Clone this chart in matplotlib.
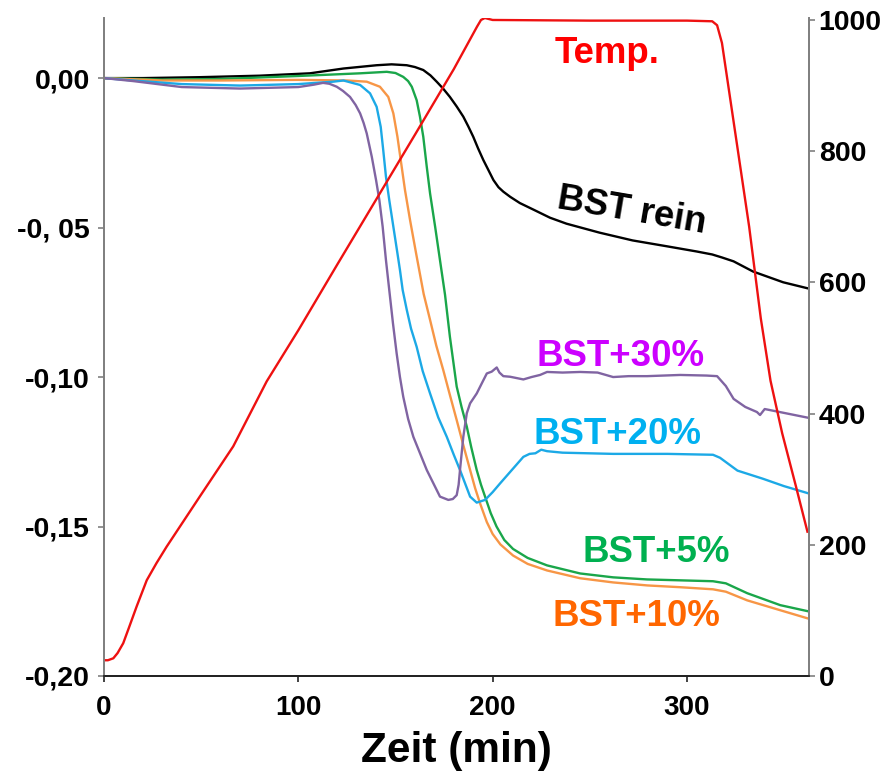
import matplotlib
matplotlib.use("Agg")
import matplotlib.pyplot as plt

plt.rcParams['font.family'] = ['Liberation Sans', 'DejaVu Sans']
plt.rcParams['font.weight'] = 'bold'

# Massenaenderung (links) ueber Zeit in min
t_rein = [0, 20, 49, 80, 106, 123.2, 140.3, 148, 155.8, 160, 164.3, 168, 171.2, 174.5, 178, 181.5, 184.9, 187.5,
          190, 192.5, 195.2, 198, 200.4, 203, 205.5, 209, 214, 221, 229.5, 238, 255, 272, 290, 305, 313, 318, 324,
          334, 349.5, 362]
m_rein = [0, 0.0, 0.0003, 0.0008, 0.0016, 0.0032, 0.0043, 0.0046, 0.0043, 0.0037, 0.0027, 0.0009, -0.0012,
          -0.0035, -0.0063, -0.0095, -0.0129, -0.0162, -0.0196, -0.0235, -0.0274, -0.031, -0.0341, -0.0365, -0.038,
          -0.0397, -0.0418, -0.044, -0.0467, -0.0487, -0.0517, -0.0543, -0.0563, -0.058, -0.059, -0.060, -0.0613,
          -0.0647, -0.0683, -0.0703]

t_5 = [0, 30, 60, 100, 131.8, 145.5, 150, 154, 156.5, 158.4, 160.9, 162.6, 164.3, 166.1, 167.8, 170.4, 172.9,
       175.5, 178, 181.5, 184, 186.7, 189, 191.8, 194, 196.1, 199, 202, 206, 210.5, 218, 228, 245, 262, 279.5,
       296.5, 313.4, 320, 331, 348, 362]
m_5 = [0, -0.0005, -0.0003, 0.0007, 0.0016, 0.0021, 0.0017, 0.0004, -0.001, -0.0029, -0.0074, -0.0129, -0.0196,
       -0.0297, -0.0386, -0.0497, -0.0609, -0.0725, -0.0865, -0.1032, -0.110, -0.1166, -0.1235, -0.1311, -0.136,
       -0.140, -0.1455, -0.150, -0.1545, -0.1575, -0.1605, -0.163, -0.1657, -0.167, -0.1677, -0.168, -0.1683,
       -0.169, -0.1723, -0.1763, -0.1783]

t_10 = [0, 30, 60, 100, 125, 135.2, 142, 146.3, 148.9, 151, 152.7, 154.9, 157.5, 160.6, 164.5, 167.8, 171,
        174.6, 178, 181.5, 185, 188.4, 191, 193.5, 197, 200, 204, 210.5, 218, 228, 245, 262, 279.5, 296.5, 313.4,
        320, 331, 348, 362]
m_10 = [0, -0.0008, -0.0008, -0.0006, -0.0008, -0.0012, -0.0029, -0.0063, -0.0118, -0.0196, -0.0274, -0.0375,
        -0.0475, -0.0586, -0.0722, -0.0809, -0.0895, -0.0977, -0.106, -0.1144, -0.123, -0.1311, -0.1372, -0.1422,
        -0.1485, -0.1525, -0.156, -0.1597, -0.1625, -0.1647, -0.1673, -0.1687, -0.1697, -0.1703, -0.171, -0.1718,
        -0.1747, -0.178, -0.1807]

t_20 = [0, 15, 40, 70, 100, 118, 123.2, 131.8, 136.9, 140.3, 142.4, 143.7, 145.1, 146.8, 148.9, 151, 152.3,
        153.7, 155.8, 158, 160.9, 164, 167.8, 172, 176.4, 180, 183.2, 188.4, 191.8, 196.1, 200, 203.8, 210, 215.8,
        219, 222, 225, 228, 236, 262, 290, 313.4, 317, 326, 339, 350, 363]
m_20 = [0, -0.0008, -0.002, -0.0025, -0.002, -0.0012, -0.0008, -0.0023, -0.0051, -0.0096, -0.0163, -0.0241,
        -0.033, -0.0408, -0.0497, -0.0586, -0.0642, -0.0709, -0.0775, -0.0838, -0.0899, -0.098, -0.1055, -0.1135,
        -0.120, -0.126, -0.1311, -0.140, -0.142, -0.1411, -0.1385, -0.1356, -0.131, -0.1267, -0.1257, -0.1255,
        -0.1243, -0.1248, -0.1253, -0.1257, -0.1257, -0.126, -0.127, -0.1313, -0.134, -0.1365, -0.139]

t_30 = [0, 15, 40, 70, 100, 108, 112.7, 116, 119.8, 123, 126.6, 129.5, 131.8, 133.6, 135.2, 137.8, 140, 141.7,
        143.4, 145.1, 146.8, 148.7, 150.6, 152.3, 154, 156.5, 159.2, 166.1, 172.9, 177.2, 179.5, 181.5, 182.5,
        183.2, 184.9, 186.7, 188.4, 191.8, 194.5, 197, 199.5, 202.1, 203.5, 205.5, 209, 215.8, 220, 224.4, 228,
        236, 245, 254, 262, 270, 279.5, 296.5, 310, 315.5, 320, 324, 330, 336, 337.6, 340, 350, 363]
m_30 = [0, -0.001, -0.003, -0.0035, -0.003, -0.0022, -0.0016, -0.0019, -0.0029, -0.0043, -0.0063, -0.009,
        -0.0118, -0.015, -0.0185, -0.0263, -0.0341, -0.0408, -0.0497, -0.0609, -0.0709, -0.082, -0.0921, -0.100,
        -0.1066, -0.114, -0.120, -0.1311, -0.140, -0.1411, -0.1408, -0.1395, -0.136, -0.1311, -0.120, -0.1121,
        -0.1088, -0.1055, -0.102, -0.0988, -0.0982, -0.0968, -0.0985, -0.0997, -0.0999, -0.1008, -0.100, -0.0993,
        -0.0983, -0.0985, -0.0983, -0.0985, -0.100, -0.0997, -0.0997, -0.0993, -0.0995, -0.0997, -0.103, -0.1073,
        -0.110, -0.1117, -0.1127, -0.1107, -0.112, -0.1137]

# Temperatur (rechts)
t_temp = [0, 2, 4.8, 7, 9.9, 13, 16.8, 22, 27, 32.2, 49.4, 66.5, 83.7, 100, 120, 140, 160, 180, 192, 194, 196,
          200, 250, 300, 313, 315.5, 318, 325, 332, 338, 343, 349, 356, 362]
temp = [24, 24, 27, 35, 50, 75, 106, 146, 172, 197, 274, 350, 449, 527, 627, 726, 825, 925, 990, 1000, 1003,
        1000, 999, 999, 998, 992, 965, 825, 685, 545, 450, 370, 290, 220]

yticks = [0, -0.05, -0.10, -0.15, -0.20]
ylabels = ['0,00', '-0, 05', '-0,10', '-0,15', '-0,20']

fig = plt.figure(figsize=(8.88, 7.77), dpi=100)
ax = fig.add_axes([104/888, 1-676/777, (809-104)/888, (676-18)/777])
ax2 = ax.twinx()

lw = 1.7
ax.plot(t_rein, m_rein, color='#000000', lw=lw)
ax.plot(t_5, m_5, color='#1AA64A', lw=lw)
ax.plot(t_10, m_10, color='#F79646', lw=lw)
ax.plot(t_20, m_20, color='#1CA9E6', lw=lw)
ax.plot(t_30, m_30, color='#8064A2', lw=lw)
ax2.plot(t_temp, temp, color='#EE1111', lw=lw)

ax.set_xlim(0, 362.8)
ax.set_ylim(-0.2, 0.0201)
ax2.set_ylim(0, 1003)
ax.set_xticks([0, 100, 200, 300])
ax.set_yticks(yticks)
ax.set_yticklabels(ylabels)
ax2.set_yticks([0, 200, 400, 600, 800, 1000])

for a in (ax, ax2):
    a.spines['top'].set_visible(False)
    a.spines['left'].set_color('#808080')
    a.spines['right'].set_color('#808080')
    a.spines['bottom'].set_color('#222222')
    for s in a.spines.values():
        s.set_linewidth(1.3)

ax.tick_params(axis='y', length=4, width=1.2, color='#808080', labelsize=20.5, pad=6)
ax.tick_params(axis='x', length=4, width=1.2, color='#222222', labelsize=20, pad=10)
ax2.tick_params(axis='y', length=4, width=1.2, color='#808080', labelsize=20.5, pad=3)

ax.set_xlabel('Zeit (min)', fontsize=30.5, fontweight='bold', labelpad=7)

fs = 26.4
ax.text(258.9, 0.005, 'Temp.', color='#FF0000', fontsize=fs, ha='center', va='baseline')
ax.text(271, -0.0477, 'BST rein', color='black', fontsize=fs, ha='center', va='baseline',
        rotation=-9.6, rotation_mode='anchor')
ax.text(266, -0.0963, 'BST+30%', color='#CC00FF', fontsize=fs, ha='center', va='baseline')
ax.text(264.3, -0.1223, 'BST+20%', color='#00B0F0', fontsize=fs, ha='center', va='baseline')
ax.text(284.4, -0.1617, 'BST+5%', color='#00B050', fontsize=fs, ha='center', va='baseline')
ax.text(273.8, -0.1833, 'BST+10%', color='#FF6600', fontsize=fs, ha='center', va='baseline')

fig.savefig('out.png', dpi=100)
